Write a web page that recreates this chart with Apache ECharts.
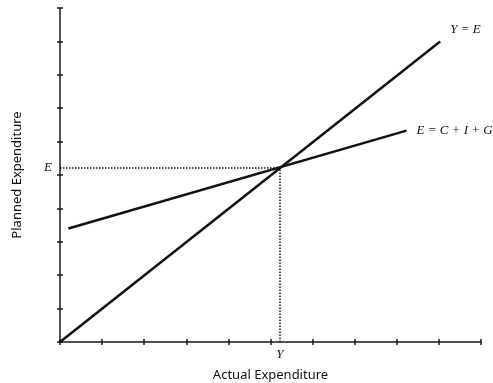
<!DOCTYPE html>
<html><head><meta charset="utf-8">
<script src="https://cdn.jsdelivr.net/npm/echarts@6/dist/echarts.min.js"></script>
<style>html,body{margin:0;padding:0;background:#fff}#c{width:493px;height:383px}</style>
</head><body><div id="c"></div>
<script>
// Data
const lineYE = [[0, 0], [9.03, 9.0]];
const lineAE = [[0.2, 3.4], [8.23, 6.33]];
const equilibrium = [5.22, 5.22];
const labelYE = 'Y = E';
const labelAE = 'E = C + I + G';
const labelE = 'E';
const labelY = 'Y';
const xName = 'Actual Expenditure';
const yName = 'Planned Expenditure';

const chart = echarts.init(document.getElementById('c'));
const axisCommon = {
  type: 'value', min: 0, max: 10, interval: 1,
  splitLine: {show: false},
  axisLabel: {show: false},
  axisLine: {show: true, lineStyle: {color: '#1a1a1a', width: 1.5}},
  axisTick: {show: true, length: 3, lineStyle: {color: '#1a1a1a', width: 1.5}}
};
const serif = {fontFamily: 'Liberation Serif', fontStyle: 'italic', fontSize: 13, color: '#111'};
chart.setOption({
  animation: false,
  grid: {left: 60, right: 12, top: 8, bottom: 41, containLabel: false, outerBoundsMode: 'none'},
  xAxis: [
    Object.assign({}, axisCommon, {name: xName, nameLocation: 'middle', nameGap: 27,
      nameTextStyle: {fontFamily: 'Noto Sans', fontSize: 13, color: '#111'}}),
    Object.assign({}, axisCommon, {position: 'bottom', axisLine: {show: false},
      axisTick: {show: true, inside: true, length: 3, lineStyle: {color: '#1a1a1a', width: 1.5}}})
  ],
  yAxis: [
    Object.assign({}, axisCommon, {name: yName, nameLocation: 'middle', nameGap: 36,
      nameTextStyle: {fontFamily: 'Noto Sans', fontSize: 13, color: '#111'}}),
    Object.assign({}, axisCommon, {position: 'left', axisLine: {show: false},
      axisTick: {show: true, inside: true, length: 3, lineStyle: {color: '#1a1a1a', width: 1.5}}})
  ],
  series: [
    {type: 'line', data: lineYE, showSymbol: false, lineStyle: {color: '#111', width: 2.5},
      endLabel: {show: true, formatter: labelYE, distance: 10, offset: [0, -12], ...serif}},
    {type: 'line', data: lineAE, showSymbol: false, lineStyle: {color: '#111', width: 2.5},
      endLabel: {show: true, formatter: labelAE, distance: 10, ...serif},
      markLine: {symbol: 'none', silent: true,
        lineStyle: {color: '#111', type: [1.5, 1.5], width: 1.5},
        data: [
          [{coord: [0, equilibrium[1]], label: {show: true, position: 'start', formatter: labelE, distance: 8, ...serif}},
           {coord: [equilibrium[0], equilibrium[1]]}],
          [{coord: [equilibrium[0], 0], label: {show: true, position: 'start', formatter: labelY, distance: 6, ...serif}},
           {coord: [equilibrium[0], equilibrium[1]]}]
        ]}}
  ]
});
</script></body></html>
